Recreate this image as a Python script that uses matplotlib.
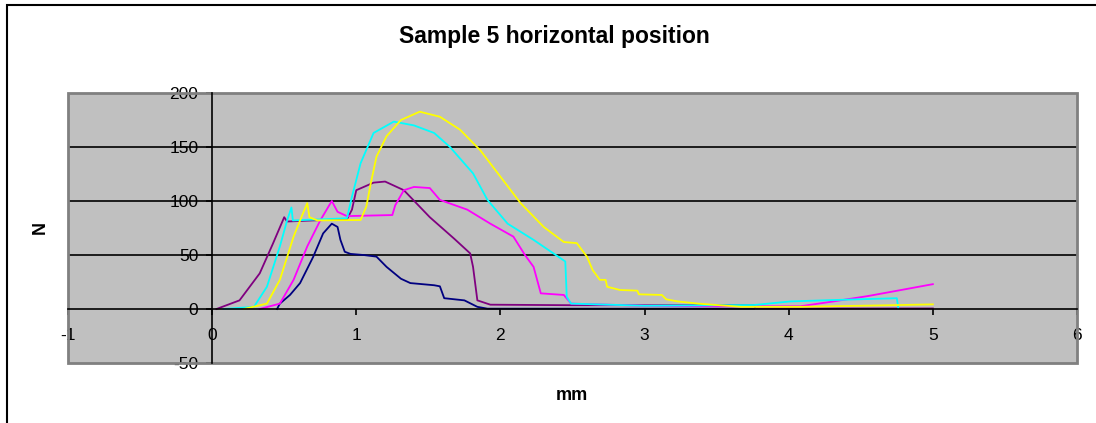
import matplotlib
matplotlib.use("Agg")
import matplotlib.pyplot as plt
from matplotlib.patches import Rectangle

# five traces (mm, N)
navy_x = [0.45, 0.47, 0.54, 0.61, 0.70, 0.77, 0.83, 0.87, 0.89, 0.92, 0.96, 1.05, 1.14, 1.21, 1.31, 1.375, 1.54, 1.58, 1.61, 1.75, 1.84, 1.91, 2.5, 3.0, 3.76]
navy_y = [0, 5, 13, 24, 48, 70, 79, 76, 64, 53, 51, 50, 48.5, 39, 28, 24, 22, 21, 10, 8, 2, 0.3, 0.3, 0.3, 0.3]

purple_x = [0.03, 0.19, 0.33, 0.42, 0.50, 0.52, 0.70, 0.935, 0.97, 1.00, 1.12, 1.20, 1.33, 1.51, 1.68, 1.79, 1.81, 1.84, 1.93, 2.5, 3.0, 3.76, 3.77, 5.0]
purple_y = [0, 8, 33, 60, 85, 81, 82, 83, 92, 110, 117, 118, 110, 85, 65, 51.5, 39, 8, 4, 3.5, 3.5, 3.5, 0.5, 0.5]

magenta_x = [0.33, 0.47, 0.565, 0.66, 0.75, 0.83, 0.87, 0.935, 1.25, 1.27, 1.33, 1.40, 1.51, 1.58, 1.77, 1.93, 2.09, 2.17, 2.23, 2.28, 2.44, 2.49, 3.0, 3.5, 4.08, 4.31, 4.55, 4.78, 5.0]
magenta_y = [0, 5, 27, 58, 82, 100, 90, 86, 87, 96, 110, 113, 112, 101, 92, 79, 67, 50, 39, 14.5, 13, 5, 3, 2.5, 2.5, 7, 12, 17.6, 23]

cyan_x = [0.08, 0.29, 0.38, 0.47, 0.52, 0.55, 0.56, 0.75, 0.935, 0.97, 1.03, 1.12, 1.26, 1.40, 1.54, 1.65, 1.81, 1.91, 2.05, 2.23, 2.45, 2.46, 2.49, 3.0, 3.76, 4.01, 4.31, 4.75, 4.76]
cyan_y = [0, 2, 20.6, 58, 82, 94, 82, 83, 84, 104, 135, 163, 173.5, 170, 163, 150, 125.6, 101, 79, 64, 44, 11.4, 5, 3, 3.7, 7, 8.3, 10, 1]

yellow_x = [0.22, 0.38, 0.47, 0.565, 0.63, 0.66, 0.675, 0.73, 1.03, 1.07, 1.10, 1.14, 1.21, 1.31, 1.44, 1.58, 1.72, 1.86, 2.0, 2.14, 2.30, 2.44, 2.53, 2.60, 2.64, 2.69, 2.73, 2.74, 2.83, 2.95, 2.96, 3.12, 3.15, 3.23, 3.37, 3.50, 3.67, 4.08, 4.78, 5.0]
yellow_y = [0, 5, 27, 67, 88.6, 98, 85, 82, 82.4, 95, 116, 141, 160, 175, 182.7, 178, 166, 147, 122.5, 98, 76, 62, 61, 48.5, 36, 27, 27, 20.6, 17.6, 17, 13.6, 13, 9, 7, 5, 3.7, 2, 2, 3.7, 4.3]

plt.rcParams["font.family"] = ["Liberation Sans", "DejaVu Sans"]
plt.rcParams["axes.unicode_minus"] = False

fig = plt.figure(figsize=(10.96, 4.23), dpi=100)
# chart area frame (cut off at right and bottom)
fig.patches.append(Rectangle((7 / 1096, -0.1), 1.2, 1 - 5 / 423 + 0.1, transform=fig.transFigure,
                             fill=False, edgecolor="#000000", lw=1.5))

ax = fig.add_axes([68 / 1096, 1 - 363 / 423, (1077 - 68) / 1096, (363 - 93) / 423])
ax.set_facecolor("#c0c0c0")

ax.plot(navy_x, navy_y, color="#000080", lw=1.3)
ax.plot(purple_x, purple_y, color="#800080", lw=1.3)
ax.plot(magenta_x, magenta_y, color="#ff00ff", lw=1.3)
ax.plot(cyan_x, cyan_y, color="#00ffff", lw=1.3)
ax.plot(yellow_x, yellow_y, color="#ffff00", lw=1.3)

ax.set_xlim(-1, 6)
ax.set_ylim(-50, 200)
ax.set_xticks(range(-1, 7))
ax.set_yticks(range(-50, 201, 50))
for v in [50, 100, 150, 200]:
    ax.axhline(v, color="black", lw=1.2, zorder=0.5)

ax.spines["left"].set_position(("data", 0))
ax.spines["bottom"].set_position(("data", 0))
ax.spines["top"].set_visible(False)
ax.spines["right"].set_visible(False)
for s in ["left", "bottom"]:
    ax.spines[s].set_linewidth(1.2)
ax.add_patch(Rectangle((0, 0), 1, 1, transform=ax.transAxes, fill=False,
                       edgecolor="#808080", lw=2, clip_on=False, zorder=1.9))

ax.tick_params(axis="y", direction="out", length=4, width=1.2, pad=6, labelsize=12.5)
ax.tick_params(axis="x", direction="out", length=4, width=1.2, pad=10, labelsize=12.5)

fig.text(554 / 1096, 1 - 36 / 423, "Sample 5 horizontal position", ha="center", va="center",
         fontsize=16.5, fontweight="bold")
fig.text(572 / 1096, 1 - 395 / 423, "mm", ha="center", va="center", fontsize=13, fontweight="bold")
fig.text(40 / 1096, 1 - 227 / 423, "N", ha="center", va="center", rotation=90,
         fontsize=13, fontweight="bold")

fig.savefig("out.png", dpi=100)
